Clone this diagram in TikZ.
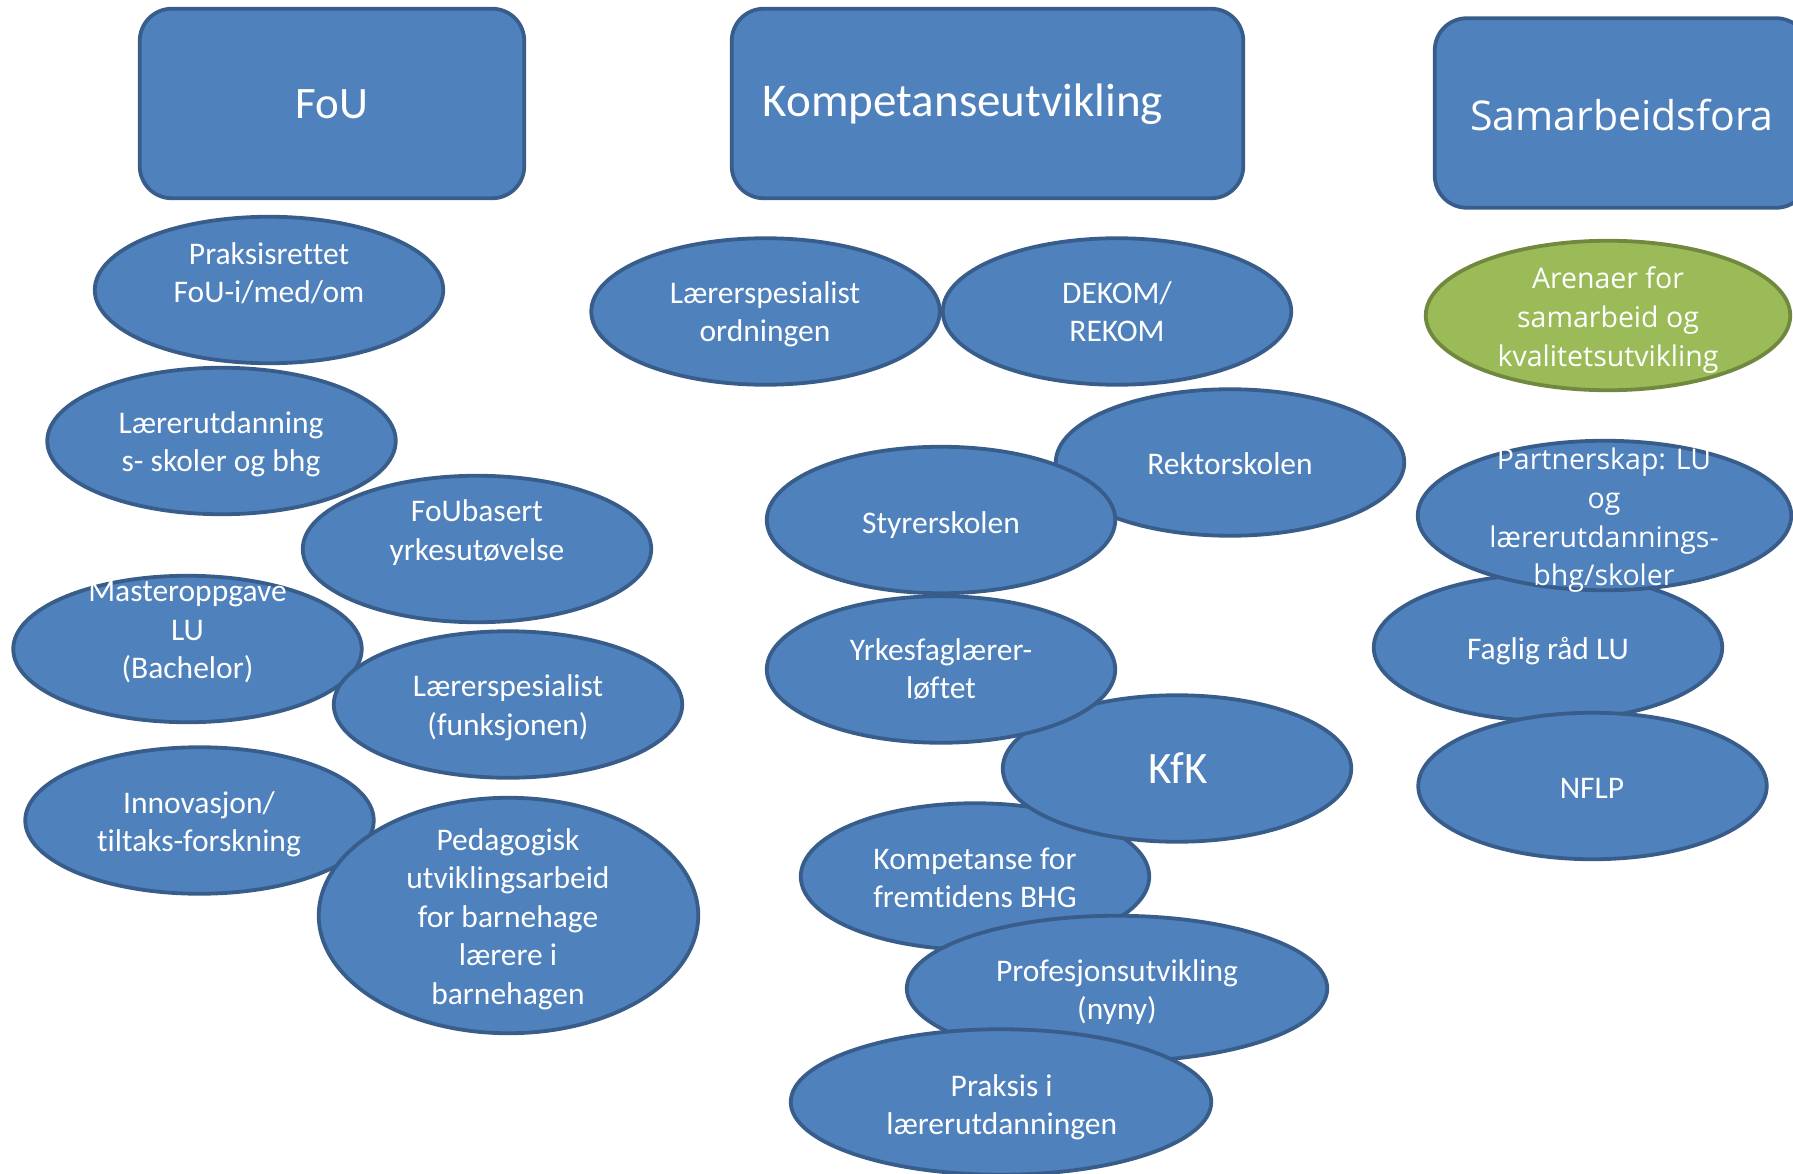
\documentclass[tikz,border=0pt]{standalone}
\usepackage{fontspec}
\setmainfont{Carlito}[Ligatures={NoCommon}]
\newfontfamily\osans{Open Sans}[Ligatures={NoCommon}]
\usetikzlibrary{shapes.geometric}
\definecolor{bfill}{HTML}{4F81BD}
\definecolor{bline}{HTML}{385D8A}
\definecolor{gfill}{HTML}{9BBB59}
\definecolor{gline}{HTML}{71893F}
\newcommand\mlines[1]{\begin{tabular}{@{}c@{}}#1\end{tabular}}
\begin{document}
\begin{tikzpicture}[x=1pt,y=-1pt,
  ell/.style={ellipse, draw=bline, fill=bfill, line width=3.8pt, inner sep=0pt,
    minimum width=348.5pt, minimum height=146.5pt},
  gell/.style={ell, draw=gline, fill=gfill},
  topbox/.style={rectangle, rounded corners=32pt, draw=bline, fill=bfill,
    line width=3.8pt, inner sep=0pt, minimum height=189.5pt},
  txt/.style={text=white, inner sep=0pt, font=\fontsize{31.5}{38.5}\selectfont},
  otxt/.style={text=white, inner sep=0pt, font=\osans\fontsize{28.5}{38.8}\selectfont},
  ttl/.style={text=white, inner sep=0pt, font=\fontsize{45}{54}\selectfont}]
\useasboundingbox (0,0) rectangle (1793,1174);

% header boxes
\node[topbox, minimum width=384.5pt] (fou) at (332,103.5) {};
\node[ttl] (fout) at (332,104.5) {FoU};
\node[topbox, minimum width=511.5pt] (komp) at (987.5,103.5) {};
\node[ttl, font=\fontsize{47}{56}\selectfont] (kompt) at (963,104.5) {Kompetanseutvikling};
\node[topbox, minimum width=373.5pt] (samb) at (1621.5,113) {};
\node[ttl, font=\osans\fontsize{41}{55}\selectfont] (sambt) at (1622,115) {Samarbeidsfora};

% FoU column
\node[ell] (e1) at (269,290) {};
\node[txt] (t1) at (269,275.7) {\mlines{Praksisrettet\\FoU-i/med/om}};
\node[ell] (e2) at (221.5,441) {};
\node[txt] (t2) at (221,445) {\mlines{Lærerutdanning\\s- skoler og bhg}};
\node[ell] (e3) at (477,549) {};
\node[txt] (t3) at (477,533.5) {\mlines{FoUbasert\\yrkesutøvelse}};
\node[ell] (e4) at (187.5,649) {};
\node[txt] (t4) at (187.5,632.5) {\mlines{Masteroppgave\\LU\\(Bachelor)}};
\node[ell] (e5) at (508,704.5) {};
\node[txt] (t5) at (508,708.5) {\mlines{Lærerspesialist\\(funksjonen)}};
\node[ell] (e6) at (199.5,820.5) {};
\node[txt] (t6) at (199,825) {\mlines{Innovasjon/\\tiltaks-forskning}};
\node[ell, minimum width=379.5pt, minimum height=235.5pt] (e7) at (508.5,915.5) {};
\node[txt] (t7) at (508,919.5) {\mlines{Pedagogisk\\utviklingsarbeid\\for barnehage\\lærere i\\barnehagen}};

% Kompetanseutvikling column
\node[ell] (e8) at (765.5,311.5) {};
\node[txt] (t8) at (765,315) {\mlines{Lærerspesialist\\ordningen}};
\node[ell] (e9) at (1117,311.5) {};
\node[txt] (t9) at (1117,315) {\mlines{DEKOM/\\REKOM}};
\node[ell] (e10) at (1230,462.5) {};
\node[txt] (t10) at (1230,463.5) {Rektorskolen};
\node[ell] (e11) at (941,520) {};
\node[txt] (t11) at (941,525) {Styrerskolen};
\node[ell] (e14) at (975,876.5) {};
\node[txt] (t14) at (975,880.6) {\mlines{Kompetanse for\\fremtidens BHG}};
\node[ell] (e13) at (1177,768.5) {};
\node[ttl] (t13) at (1178,768) {KfK};
\node[ell] (e12) at (941,669.5) {};
\node[txt] (t12) at (941,672) {\mlines{Yrkesfaglærer-\\løftet}};
\node[ell, minimum width=420.5pt, minimum height=145.5pt] (e15) at (1117,988.5) {};
\node[txt] (t15) at (1117,993) {\mlines{Profesjonsutvikling\\(nyny)}};
\node[ell, minimum width=420.5pt, minimum height=145.5pt] (e16) at (1001,1102) {};
\node[txt] (t16) at (1001.7,1108) {\mlines{Praksis i\\lærerutdanningen}};

% Samarbeidsfora column
\node[gell, minimum width=364.5pt, minimum height=149.5pt] (e17) at (1608,315.5) {};
\node[otxt] (t17) at (1608,320) {\mlines{Arenaer for\\samarbeid og\\kvalitetsutvikling}};
\node[ell] (e19) at (1548,647.5) {};
\node[txt] (t19) at (1548,651) {Faglig råd LU};
\node[ell, minimum width=373.5pt, minimum height=149.5pt] (e18) at (1604.5,515.5) {};
\node[otxt] (t18) at (1604,520) {\mlines{Partnerskap: LU\\og\\lærerutdannings-\\bhg/skoler}};
\node[ell] (e20) at (1592.5,786) {};
\node[txt] (t20) at (1592,788.5) {NFLP};
\end{tikzpicture}
\end{document}
